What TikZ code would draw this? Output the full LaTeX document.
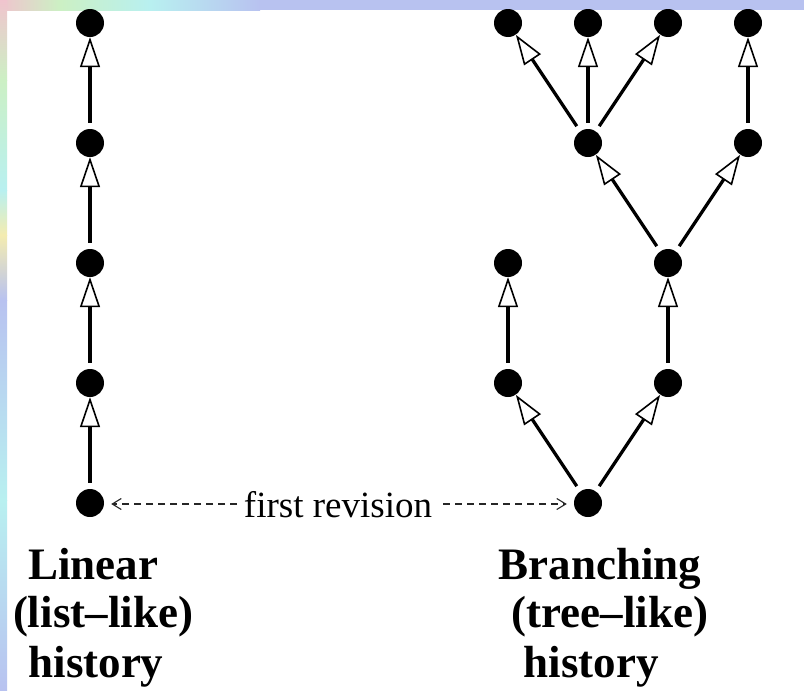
\documentclass[tikz,border=0pt]{standalone}
\usepackage{fontspec}
\setmainfont{Liberation Serif}
\usetikzlibrary{arrows.meta}
\definecolor{lav}{RGB}{184,194,240}
\definecolor{pinkish}{RGB}{240,196,206}
\definecolor{mint}{RGB}{204,240,196}
\definecolor{aqua}{RGB}{184,240,240}
\definecolor{paleyellow}{RGB}{244,236,176}

\begin{document}
\begin{tikzpicture}[x=1pt,y=-1pt,
  rev/.style={circle,fill=black,inner sep=0pt,minimum size=28pt},
  succ/.style={line width=3.3pt,shorten <=6pt,
    -{Triangle[open,fill=white,length=30pt,width=20pt,line width=1.6pt]}},
  pointer/.style={line width=1.1pt,draw=black!85,dash pattern=on 7pt off 5pt,
    -{Straight Barb[length=9pt,width=11pt,line width=1.1pt]}},
  caption/.style={font=\fontsize{45}{54}\selectfont\bfseries,anchor=base,inner sep=0pt},
  note/.style={font=\fontsize{37}{44}\selectfont,anchor=base,inner sep=0pt}]

% canvas and textured frame strips
\useasboundingbox (0,0) rectangle (804,691);
\fill[white] (0,0) rectangle (804,691);
\shade[left color=pinkish,right color=mint] (0,0) rectangle (60,10);
\shade[left color=mint,right color=aqua] (60,0) rectangle (150,10);
\shade[left color=aqua,right color=lav] (150,0) rectangle (260,10);
\fill[lav] (260,0) rectangle (804,10);
\shade[top color=pinkish,bottom color=mint] (0,0) rectangle (7,80);
\shade[top color=mint,bottom color=aqua] (0,80) rectangle (7,190);
\shade[top color=aqua,bottom color=paleyellow] (0,190) rectangle (7,235);
\shade[top color=paleyellow,bottom color=lav] (0,235) rectangle (7,300);
\shade[top color=lav,bottom color=aqua] (0,300) rectangle (7,500);
\shade[top color=aqua,bottom color=lav] (0,500) rectangle (7,691);

% linear history
\node[rev] (l1) at (90,503) {};
\node[rev] (l2) at (90,383) {};
\node[rev] (l3) at (90,263) {};
\node[rev] (l4) at (90,143) {};
\node[rev] (l5) at (90,23) {};
\draw[succ] (l1) -- (l2);
\draw[succ] (l2) -- (l3);
\draw[succ] (l3) -- (l4);
\draw[succ] (l4) -- (l5);

% branching history
\node[rev] (r0) at (588,503) {};
\node[rev] (a1) at (508,383) {};
\node[rev] (b1) at (668,383) {};
\node[rev] (a2) at (508,263) {};
\node[rev] (b2) at (668,263) {};
\node[rev] (c1) at (588,143) {};
\node[rev] (d1) at (748,143) {};
\node[rev] (t1) at (508,23) {};
\node[rev] (t2) at (588,23) {};
\node[rev] (t3) at (668,23) {};
\node[rev] (t4) at (748,23) {};
\draw[succ] (r0) -- (a1);
\draw[succ] (a1) -- (a2);
\draw[succ] (r0) -- (b1);
\draw[succ] (b1) -- (b2);
\draw[succ] (b2) -- (c1);
\draw[succ] (b2) -- (d1);
\draw[succ] (c1) -- (t1);
\draw[succ] (c1) -- (t2);
\draw[succ] (c1) -- (t3);
\draw[succ] (d1) -- (t4);

% shared first revision
\node[note] (fr) at (338,517) {first revision};
\coordinate (frl) at (237,504);
\coordinate (frr) at (443,504);
\draw[pointer,shorten >=7pt] (frl) -- (l1.east |- frl);
\draw[pointer,shorten >=7pt] (frr) -- (r0.west |- frr);

% captions
\node[caption] (lin1) at (93,579) {Linear};
\node[caption] (lin2) at (103,627) {(list--like)};
\node[caption] (lin3) at (96,677) {history};
\node[caption] (br1) at (600,579) {Branching};
\node[caption] (br2) at (610,627) {(tree--like)};
\node[caption] (br3) at (591,677) {history};
\end{tikzpicture}
\end{document}
